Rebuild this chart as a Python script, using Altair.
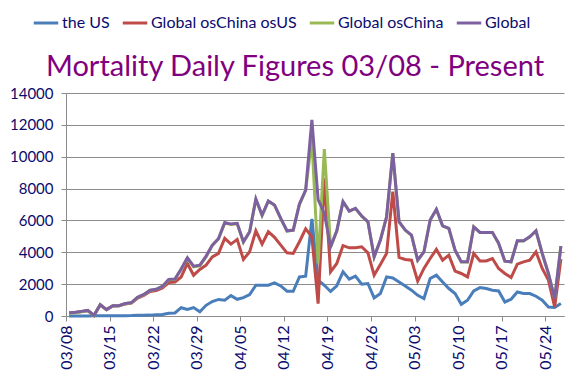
import altair as alt
import pandas as pd

# ---- data ----
start_date = "2020-03-08"
n_days = 80

us = [0, 5, 5, 5, 10, 10, 10, 10, 15, 20,
      25, 40, 50, 55, 80, 90, 170, 190, 520, 410,
      530, 260, 670, 910, 1040, 990, 1280, 1050, 1155, 1345,
      1930, 1930, 1930, 2080, 1890, 1555, 1555, 2455, 2500, 6100,
      2250, 1930, 1540, 1900, 2770, 2310, 2500, 1995, 2040, 1135,
      1410, 2455, 2390, 2140, 1890, 1620, 1300, 1095, 2355, 2560,
      2140, 1725, 1410, 735, 990, 1575, 1785, 1725, 1620, 1575,
      880, 1050, 1510, 1410, 1410, 1240, 990, 565, 530, 780]

global_os_china_os_us = [200, 225, 280, 340, 30, 700, 390, 630, 640, 760,
                         810, 1130, 1300, 1540, 1600, 1760, 2100, 2130, 2450, 3300,
                         2560, 2920, 3190, 3715, 3930, 4870, 4510, 4810, 3550, 4030,
                         5350, 4510, 5290, 4935, 4450, 3965, 3930, 4660, 5470, 4975,
                         780, 8650, 2770, 3300, 4420, 4280, 4280, 4345, 3965, 2560,
                         3235, 3930, 7805, 3675, 3550, 3505, 2185, 2985, 3610, 4180,
                         3505, 3820, 2815, 2670, 2455, 3930, 3460, 3460, 3610, 2985,
                         2670, 2415, 3255, 3400, 3505, 4030, 2985, 2250, 565, 3570]

global_os_china = [190, 210, 270, 330, 30, 700, 390, 630, 640, 770,
                   830, 1170, 1340, 1600, 1670, 1850, 2280, 2300, 2940, 3620,
                   3080, 3150, 3700, 4420, 4840, 5840, 5740, 5790, 4630, 5270,
                   7310, 6310, 7200, 6950, 6110, 5330, 5380, 7010, 7890, 11100,
                   3300, 10480, 4320, 5330, 7170, 6580, 6750, 6265, 5910, 3705,
                   4755, 6220, 10210, 5910, 5385, 5070, 3495, 4020, 6015, 6690,
                   5655, 5490, 4125, 3395, 3395, 5595, 5245, 5245, 5245, 4555,
                   3440, 3395, 4715, 4715, 4970, 5345, 3925, 2665, 1090, 4385]

global_total = [210, 230, 290, 350, 40, 710, 400, 640, 650, 780,
                840, 1180, 1350, 1620, 1680, 1870, 2300, 2320, 2950, 3650,
                3130, 3190, 3760, 4450, 4870, 5870, 5770, 5815, 4660, 5290,
                7345, 6340, 7220, 6970, 6130, 5350, 5395, 7030, 7910, 12320,
                7300, 6445, 4340, 5350, 7180, 6590, 6760, 6275, 5920, 3715,
                4765, 6230, 10220, 5920, 5395, 5080, 3505, 4030, 6025, 6700,
                5665, 5500, 4135, 3400, 3400, 5600, 5250, 5250, 5250, 4560,
                3445, 3400, 4720, 4720, 4975, 5350, 3930, 2670, 1095, 4390]

series_names = ["the US", "Global osChina osUS", "Global osChina", "Global"]
series_values = [us, global_os_china_os_us, global_os_china, global_total]
series_colors = ["#4A7EBB", "#BE4B48", "#98B954", "#7D60A0"]

tick_labels = ["03/08", "03/15", "03/22", "03/29", "04/05", "04/12",
               "04/19", "04/26", "05/03", "05/10", "05/17", "05/24"]
y_ticks = [0, 2000, 4000, 6000, 8000, 10000, 12000, 14000]
title_text = "Mortality Daily Figures 03/08 - Present"

# ---- build table ----
dates = pd.date_range(start_date, periods=n_days, freq="D") + pd.Timedelta(hours=12)
rows = []
for name, vals in zip(series_names, series_values):
    for d, v in zip(dates, vals):
        rows.append({"date": d.strftime("%Y-%m-%dT%H:%M:%S"), "series": name, "value": v})
df = pd.DataFrame(rows)

def dt(mmdd):
    m, d = mmdd.split("/")
    return alt.DateTime(year=2020, month=int(m), date=int(d))

navy = "#0B0B6E"
grid = "#8C8C8C"
font = "Lato"

x_enc = alt.X(
    "date:T",
    scale=alt.Scale(domain=[dt("03/08"), dt("05/27")]),
    axis=alt.Axis(
        values=[dt(t) for t in tick_labels],
        format="%m/%d",
        labelAngle=-90,
        labelFontSize=16,
        labelColor=navy,
        labelFont=font,
        labelPadding=4,
        tickSize=5,
        tickColor=grid,
        domainColor=grid,
        grid=False,
        title=None,
    ),
)
y_enc = alt.Y(
    "value:Q",
    scale=alt.Scale(domain=[0, 14000], nice=False),
    axis=alt.Axis(
        values=y_ticks,
        format="d",
        labelFontSize=15,
        labelColor=navy,
        labelFont=font,
        labelPadding=8,
        tickSize=5,
        tickColor=grid,
        domainColor=grid,
        gridColor=grid,
        grid=True,
        title=None,
    ),
)
color_enc = alt.Color(
    "series:N",
    scale=alt.Scale(domain=series_names, range=series_colors),
    legend=alt.Legend(
        title=None,
        orient="none",
        direction="horizontal",
        legendX=-34,
        legendY=-84,
        symbolType="stroke",
        symbolStrokeWidth=3,
        symbolSize=600,
        labelFontSize=16,
        labelFont=font,
        labelColor=navy,
        labelOffset=2,
        columnPadding=6,
    ),
)

layers = []
for name in series_names:
    layers.append(
        alt.Chart(df)
        .transform_filter(alt.datum.series == name)
        .mark_line(strokeWidth=3)
        .encode(x=x_enc, y=y_enc, color=color_enc)
    )

title_layer = (
    alt.Chart(pd.DataFrame({"t": [title_text]}))
    .mark_text(
        fontSize=29,
        font=font,
        color="#800080",
        align="center",
        baseline="alphabetic",
    )
    .encode(text="t:N", x=alt.value(229), y=alt.value(-17))
)

chart = (
    alt.layer(*layers, title_layer)
    .properties(
        width=498,
        height=223,
        autosize=alt.AutoSizeParams(type="none"),
        padding={"left": 58, "top": 85, "right": 8, "bottom": 60},
    )
    .configure_view(stroke=None)
)

chart.save("out.html", embed_options={"renderer": "svg", "actions": False})
